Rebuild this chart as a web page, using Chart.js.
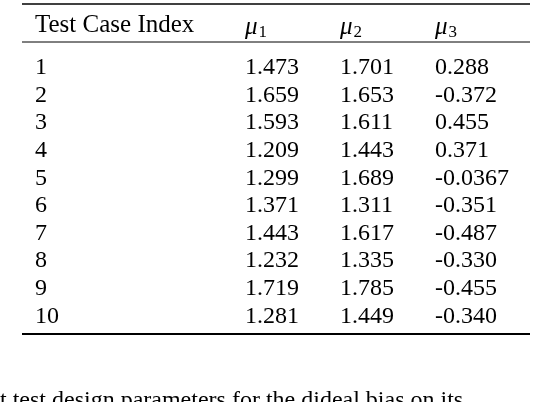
<!DOCTYPE html>
<html><head><meta charset="utf-8">
<script src="https://cdn.jsdelivr.net/npm/chart.js@4"></script>
<style>html,body{margin:0;padding:0;background:#fff}#w{width:546px;height:402px}</style>
</head><body><div id="w"><canvas id="c"></canvas></div>
<script>
const headers = ["Test Case Index", "μ1", "μ2", "μ3"];
const caseIndex = ["1","2","3","4","5","6","7","8","9","10"];
const mu1 = ["1.473","1.659","1.593","1.209","1.299","1.371","1.443","1.232","1.719","1.281"];
const mu2 = ["1.701","1.653","1.611","1.443","1.689","1.311","1.617","1.335","1.785","1.449"];
const mu3 = ["0.288","-0.372","0.455","0.371","-0.0367","-0.351","-0.487","-0.330","-0.455","-0.340"];
const caption = "t test design parameters for the dideal bias on its";

const L = {colX:[35,245,340,435], headY:25, row0Y:68, rowStep:27.6, left:22, right:530, topRule:4, midRule:42, botRule:334, capY:401};
const cols = [caseIndex, mu1, mu2, mu3];

const tablePlugin = {
  id:'table',
  afterDraw(chart){
    const {ctx, scales:{x,y}} = chart;
    ctx.save();
    ctx.fillStyle='#000'; ctx.strokeStyle='#000';
    const hline=(yy,w)=>{ctx.lineWidth=w;ctx.beginPath();ctx.moveTo(x.getPixelForValue(L.left),y.getPixelForValue(yy));ctx.lineTo(x.getPixelForValue(L.right),y.getPixelForValue(yy));ctx.stroke();};
    hline(L.topRule,1.6); hline(L.midRule,1); hline(L.botRule,1.8);
    ctx.textBaseline='middle'; ctx.textAlign='left';
    ctx.font='25px "Liberation Serif"';
    ctx.fillText(headers[0], x.getPixelForValue(L.colX[0]), y.getPixelForValue(L.headY));
    for(let i=1;i<4;i++){
      const px=x.getPixelForValue(L.colX[i]), py=y.getPixelForValue(L.headY);
      ctx.font='italic 25px "Liberation Serif"';
      ctx.fillText('μ',px,py+2);
      const w=ctx.measureText('μ').width;
      ctx.font='17px "Liberation Serif"';
      ctx.fillText(headers[i].slice(1),px+w+1,py+8);
    }
    ctx.font='24px "Liberation Serif"';
    cols.forEach((col,ci)=>col.forEach((v,ri)=>{
      ctx.fillText(v, x.getPixelForValue(L.colX[ci]), y.getPixelForValue(L.row0Y+ri*L.rowStep));
    }));
    ctx.fillText(caption, x.getPixelForValue(0), y.getPixelForValue(L.capY));
    ctx.restore();
  }
};

new Chart(document.getElementById('c'),{
  type:'scatter',
  data:{datasets:[{data:[],pointRadius:0}]},
  options:{
    responsive:true, maintainAspectRatio:false, animation:false,
    layout:{padding:0},
    plugins:{legend:{display:false},tooltip:{enabled:false}},
    scales:{
      x:{type:'linear',min:0,max:546,display:false},
      y:{type:'linear',min:0,max:402,reverse:true,display:false}
    }
  },
  plugins:[tablePlugin]
});
</script></body></html>
